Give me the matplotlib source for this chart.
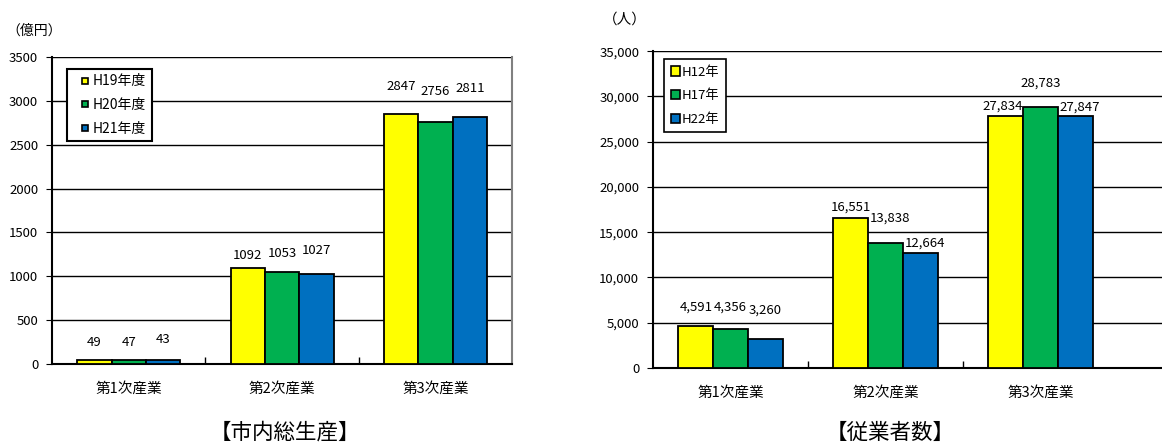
import matplotlib
matplotlib.use("Agg")
import numpy as np
import matplotlib.pyplot as plt
from matplotlib.patches import Patch
from matplotlib.lines import Line2D
from matplotlib.ticker import StrMethodFormatter

plt.rcParams['font.family'] = ['Noto Sans CJK JP', 'DejaVu Sans']

# 市内総生産（億円）
cats = ["第1次産業", "第2次産業", "第3次産業"]
gdp_years = ["H19年度", "H20年度", "H21年度"]
gdp_h19 = [49, 1092, 2847]
gdp_h20 = [47, 1053, 2756]
gdp_h21 = [43, 1027, 2811]

# 従業者数（人）
emp_years = ["H12年", "H17年", "H22年"]
emp_h12 = [4591, 16551, 27834]
emp_h17 = [4356, 13838, 28783]
emp_h22 = [3260, 12664, 27847]

colors = ["#FFFF00", "#00B050", "#0070C0"]
bw = 0.224

fig = plt.figure(figsize=(11.62, 4.45), dpi=100)
ax1 = fig.add_axes([0.0448, 0.182, 0.3959, 0.690])
ax2 = fig.add_axes([0.562, 0.173, 0.438, 0.712])


def draw(ax, series, ymax, ystep, xmax, dxy, fmt):
    x = np.arange(len(cats))
    for i, vals in enumerate(series):
        pos = x + (i - 1) * bw
        ax.bar(pos, vals, bw, color=colors[i], edgecolor="black", linewidth=1.3, zorder=3)
        # ラベル位置は系列ごと・項目ごとに少しずらす
        for j, v in enumerate(vals):
            dx, dy = dxy[i][j]
            ax.annotate(fmt.format(v), (pos[j], v), xytext=(dx, dy),
                        textcoords="offset pixels", ha="center", va="center",
                        fontsize=9.5, zorder=4)
    ax.set_xlim(-0.5, xmax)
    ax.set_ylim(0, ymax)
    ax.set_yticks(np.arange(0, ymax + 1, ystep))
    ax.yaxis.grid(True, color="black", linewidth=1.0, zorder=0)
    ax.axhline(ymax, color="#808080", linewidth=1.5, zorder=1)
    ax.set_xticks([0.5, 1.5])
    ax.set_xticklabels([])
    ax.set_xticks(x, minor=True)
    ax.set_xticklabels(cats, minor=True, fontsize=10.5)
    ax.tick_params(axis="x", which="major", direction="in", length=5, width=1)
    ax.tick_params(axis="x", which="minor", length=0, pad=13)
    ax.tick_params(axis="y", direction="out", length=4, labelsize=9.5, pad=6)
    for s in ["left", "bottom"]:
        ax.spines[s].set_linewidth(1.5)
    ax.spines["top"].set_visible(False)
    ax.spines["right"].set_color("#808080")
    ax.spines["right"].set_linewidth(1.5)


draw(ax1, [gdp_h19, gdp_h20, gdp_h21], 3500, 500, 2.5,
     [[(0, 17), (0, 13), (0, 28)],
      [(0, 17), (0, 18), (0, 31)],
      [(0, 21), (0, 23), (0, 29)]], "{}")
# 左の凡例は小さい四角マーカー
h1 = [Line2D([], [], marker="s", linestyle="none", markersize=4.5,
             markerfacecolor=c, markeredgecolor="black", markeredgewidth=1.2)
      for c in colors]
leg1 = ax1.legend(h1, gdp_years, loc="upper left", bbox_to_anchor=(0.033, 0.961),
                  borderaxespad=0, fontsize=10, handlelength=1.8,
                  handletextpad=-0.36, labelspacing=0.7, fancybox=False,
                  edgecolor="black", framealpha=1, borderpad=0.4)
leg1.get_frame().set_linewidth(1.5)
leg1.set_zorder(5)

draw(ax2, [emp_h12, emp_h17, emp_h22], 35000, 5000, 2.784,
     [[(0, 19), (0, 11), (-3, 10)],
      [(0, 21), (5, 25), (0, 24)],
      [(0, 28), (5, 10), (5, 9)]], "{:,}")
ax2.yaxis.set_major_formatter(StrMethodFormatter("{x:,.0f}"))
ax2.spines["right"].set_visible(False)
h2 = [Patch(facecolor=c, edgecolor="black", linewidth=1.2) for c in colors]
leg2 = ax2.legend(h2, emp_years, loc="upper left", bbox_to_anchor=(0.0216, 0.975),
                  borderaxespad=0, fontsize=9.5, handlelength=0.7, handleheight=0.7,
                  handletextpad=0.15, labelspacing=0.8, fancybox=False,
                  edgecolor="black", framealpha=1, borderpad=0.5)
leg2.get_frame().set_linewidth(1.2)
leg2.set_zorder(5)

fig.text(6 / 1162, 1 - 31 / 445, "（億円）", fontsize=10, va="center", ha="left")
fig.text(603 / 1162, 1 - 20 / 445, "（人）", fontsize=10.5, va="center", ha="left")
fig.text(285 / 1162, 1 - 433 / 445, "【市内総生産】", fontsize=15.5, ha="center", va="center")
fig.text(890 / 1162, 1 - 433 / 445, "【従業者数】", fontsize=15.5, ha="center", va="center")

fig.savefig("out.png", dpi=100)
